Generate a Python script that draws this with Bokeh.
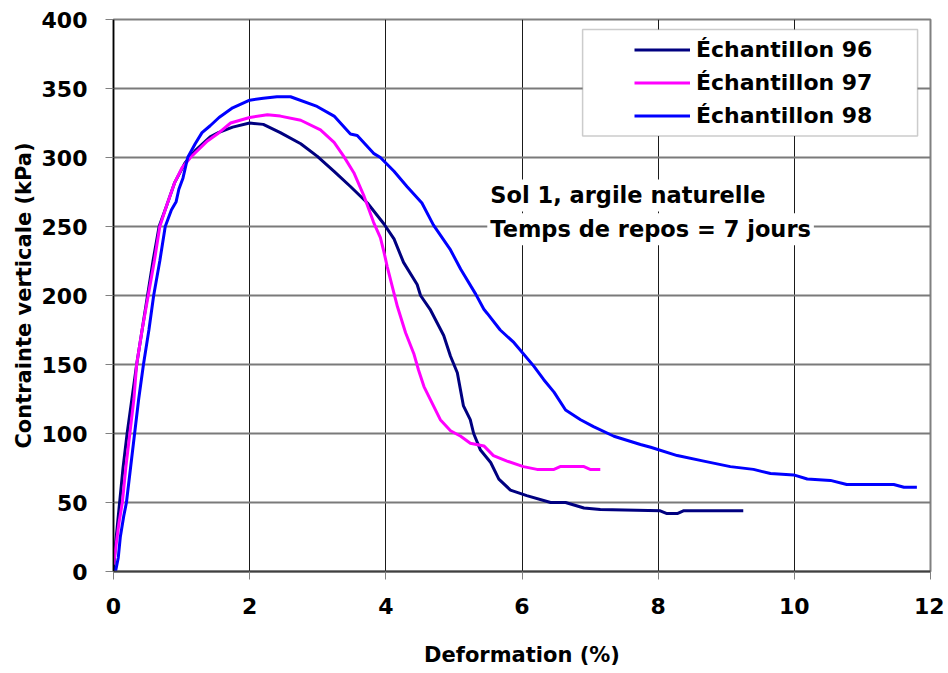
from bokeh.plotting import figure
from bokeh.models import (Range1d, FixedTicker, Legend, LegendItem, Label, BoxAnnotation)
from bokeh.embed import file_html
from bokeh.resources import INLINE

# ---------------- data ----------------
x96 = [0, 0.03, 0.06, 0.09, 0.14, 0.2, 0.27, 0.34, 0.42, 0.5, 0.58, 0.67, 0.78, 0.9, 1.05,
       1.2, 1.42, 1.54, 1.75, 2.0, 2.2, 2.45, 2.75, 2.99, 3.24, 3.48, 3.73, 3.97, 4.12, 4.26,
       4.46, 4.51, 4.65, 4.85, 4.95, 5.05, 5.14, 5.24, 5.29, 5.39, 5.54, 5.66, 5.83, 6.07,
       6.42, 6.64, 6.91, 7.15, 8.03, 8.13, 8.28, 8.37, 9.25]
y96 = [0, 20, 35, 50, 75, 100, 125, 150, 175, 200, 225, 250, 265, 282, 296,
       305, 315, 318, 322, 325, 324, 318, 310, 301, 290, 279, 267, 252, 241, 224,
       208, 200, 190, 171, 156, 144, 120, 110, 100, 88, 79, 67, 59, 55,
       50, 50, 46, 45, 44, 42, 42, 44, 44]

x97 = [0, 0.04, 0.08, 0.13, 0.18, 0.24, 0.3, 0.34, 0.42, 0.51, 0.6, 0.68, 0.78, 0.9, 1.0,
       1.13, 1.38, 1.55, 1.72, 2.0, 2.26, 2.45, 2.75, 3.04, 3.24, 3.38, 3.53, 3.68, 3.82,
       3.92, 3.97, 4.02, 4.17, 4.29, 4.41, 4.48, 4.56, 4.68, 4.80, 4.95, 5.10, 5.24, 5.44,
       5.58, 5.78, 6.02, 6.22, 6.47, 6.56, 6.91, 7.0, 7.15]
y97 = [5, 20, 35, 50, 75, 100, 125, 150, 175, 200, 225, 250, 265, 282, 292,
       300, 312, 318, 325, 329, 331, 330, 327, 320, 311, 301, 289, 272, 253,
       242, 232, 221, 192, 173, 158, 146, 134, 122, 110, 102, 98, 93, 91,
       84, 80, 76, 74, 74, 76, 76, 74, 74]

x98 = [0.03, 0.07, 0.1, 0.15, 0.19, 0.25, 0.31, 0.37, 0.44, 0.52, 0.59, 0.68, 0.76, 0.85,
       0.92, 0.96, 1.02, 1.09, 1.2, 1.3, 1.42, 1.55, 1.75, 2.0, 2.2, 2.4, 2.6, 2.99, 3.24,
       3.48, 3.58, 3.82, 3.92, 4.12, 4.31, 4.53, 4.70, 4.95, 5.10, 5.32, 5.44, 5.49, 5.68,
       5.88, 6.17, 6.32, 6.47, 6.64, 6.86, 7.05, 7.35, 7.74, 7.89, 8.28, 8.67, 9.06, 9.40,
       9.65, 9.99, 10.19, 10.53, 10.77, 11.46, 11.61, 11.80]
y98 = [0, 10, 25, 40, 50, 75, 100, 125, 150, 175, 200, 225, 250, 262,
       268, 277, 285, 300, 310, 318, 323, 329, 336, 341.5, 343, 344, 344, 337, 330,
       317, 316, 303, 300, 290, 279, 267, 251, 233, 219, 201, 190, 187, 175,
       166, 149, 139, 130, 117, 110, 105, 98, 92, 90, 84, 80, 76, 74,
       71, 70, 67, 66, 63, 63, 61, 61]

series_names = ["Échantillon 96", "Échantillon 97", "Échantillon 98"]
series_colors = ["#000080", "#FF00FF", "#0000FF"]
x_ticks = [0, 2, 4, 6, 8, 10, 12]
y_ticks = [0, 50, 100, 150, 200, 250, 300, 350, 400]
x_title = "Deformation (%)"
y_title = "Contrainte verticale (kPa)"
note_lines = ["Sol 1, argile naturelle", "Temps de repos = 7 jours"]

FONT = "DejaVu Sans"

p = figure(frame_width=817, frame_height=552,
           min_border_left=113, min_border_right=14, min_border_top=19, min_border_bottom=94,
           x_range=Range1d(0, 12), y_range=Range1d(0, 400),
           output_backend="svg", toolbar_location=None)
p.background_fill_color = "white"
p.border_fill_color = "white"
p.outline_line_color = "#808080"
p.outline_line_width = 2

# grids
p.xgrid.ticker = FixedTicker(ticks=x_ticks)
p.ygrid.ticker = FixedTicker(ticks=y_ticks)
p.xgrid.grid_line_color = "#1a1a1a"
p.xgrid.grid_line_width = 1
p.ygrid.grid_line_color = "#7a7a7a"
p.ygrid.grid_line_width = 2

# axes
for ax, ticks in ((p.xaxis[0], x_ticks), (p.yaxis[0], y_ticks)):
    ax.ticker = FixedTicker(ticks=ticks)
    ax.minor_tick_line_color = None
    ax.major_tick_in = 0
    ax.major_tick_out = 8
    ax.major_tick_line_color = "#808080"
    ax.major_tick_line_width = 1
    ax.major_label_text_font = FONT
    ax.major_label_text_font_style = "bold"
    ax.major_label_text_font_size = "22px"
    ax.major_label_text_color = "black"
    ax.axis_label_text_font = FONT
    ax.axis_label_text_font_style = "bold"
    ax.axis_label_text_font_size = "21px"
    ax.axis_label_text_color = "black"

p.xaxis.axis_label = x_title
p.yaxis.axis_label = y_title
p.xaxis.axis_line_color = "#404040"
p.xaxis.axis_line_width = 2
p.yaxis.axis_line_color = "black"
p.yaxis.axis_line_width = 1.5
p.xaxis.major_label_standoff = 18
p.yaxis.major_label_standoff = 18
p.xaxis.axis_label_standoff = 26
p.yaxis.axis_label_standoff = 3

# curves
r96 = p.line(x96, y96, line_color=series_colors[0], line_width=3)
r97 = p.line(x97, y97, line_color=series_colors[1], line_width=3)
r98 = p.line(x98, y98, line_color=series_colors[2], line_width=3)

# legend frame
box = BoxAnnotation(left=6.89, right=11.81, bottom=315.5, top=392.8,
                    fill_color="white", fill_alpha=1.0,
                    line_color="#555555", line_width=1.5, level="annotation")
p.add_layout(box)

legend = Legend(items=[LegendItem(label=series_names[0], renderers=[r96]),
                       LegendItem(label=series_names[1], renderers=[r97]),
                       LegendItem(label=series_names[2], renderers=[r98])],
                location=(521, 439), padding=0, spacing=0, margin=0,
                glyph_width=56, glyph_height=33, label_height=33, label_standoff=6,
                label_text_font=FONT, label_text_font_style="bold",
                label_text_font_size="22px", label_text_color="black",
                border_line_color=None, background_fill_alpha=0)
p.add_layout(legend, "center")

# note
for txt, yy in zip(note_lines, [272.5, 248.0]):
    lab = Label(x=5.49, y=yy, text=txt, text_baseline="middle", text_align="left",
                text_font=FONT, text_font_style="bold", text_font_size="22.5px",
                text_color="black", background_fill_color="white",
                background_fill_alpha=1.0, padding=3)
    p.add_layout(lab)

open("out.html", "w").write(file_html(p, INLINE))
